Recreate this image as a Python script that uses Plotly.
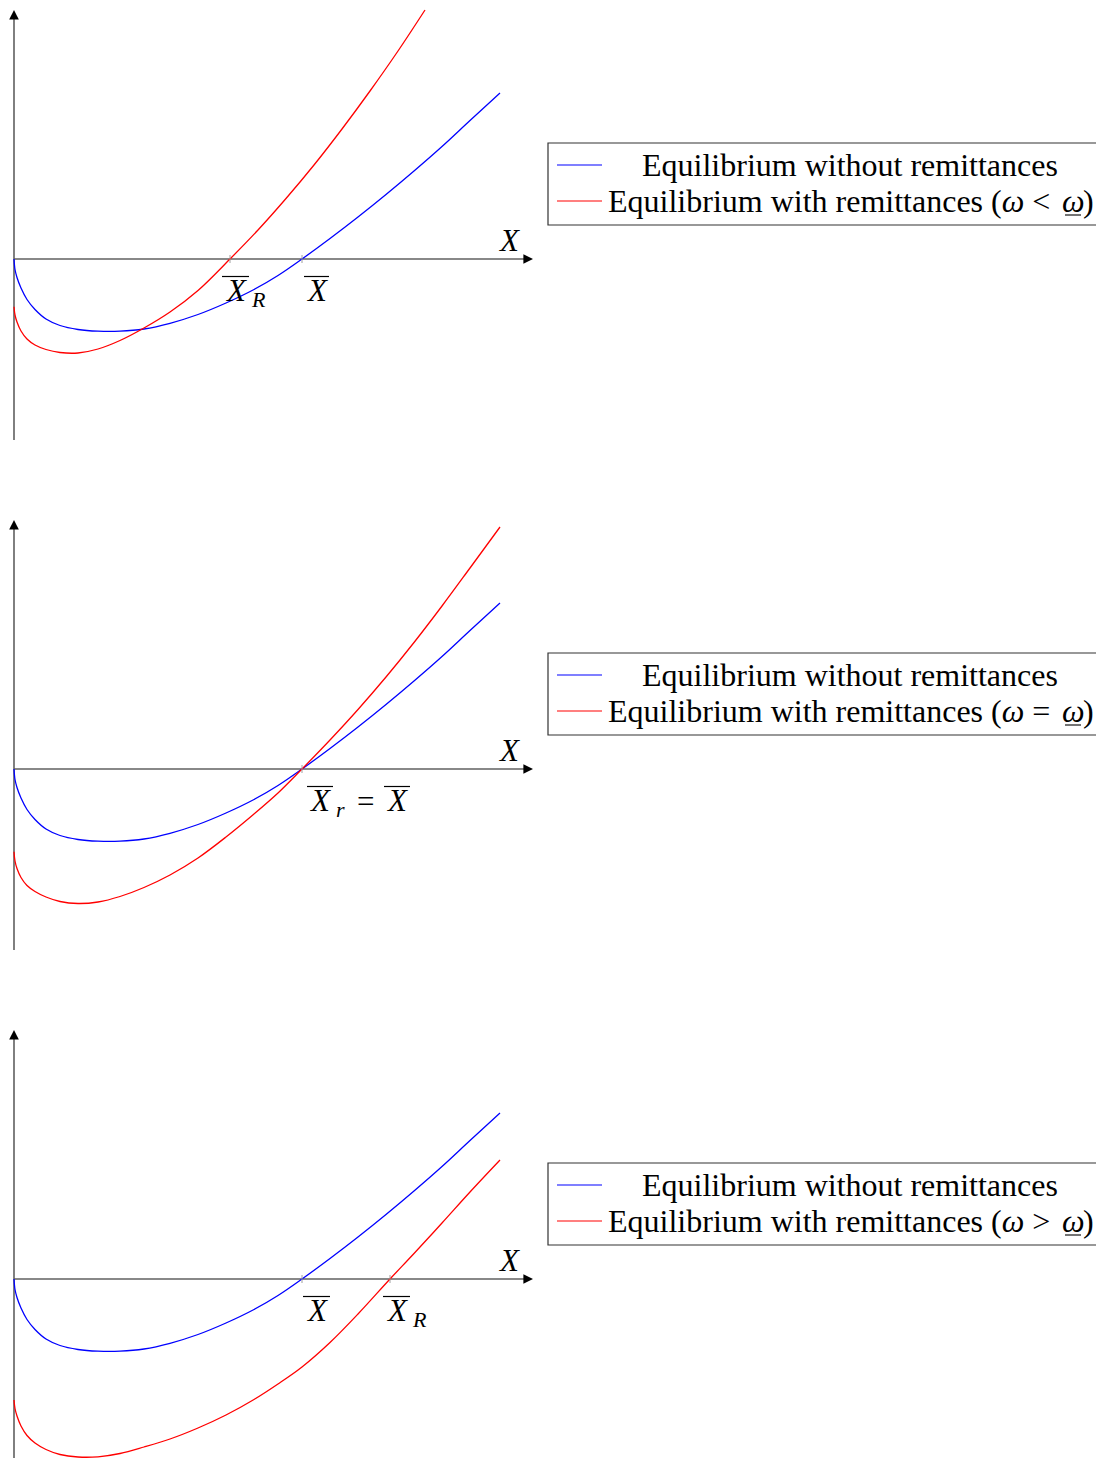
import plotly.graph_objects as go

# ---- data (x = X, y = equilibrium function value) ----
BLUE_X = [0, 1, 3, 7, 13, 21, 32, 46, 64, 84, 106, 130, 156, 184, 212, 240, 264, 288, 316, 344, 372, 400, 428, 456, 486]
BLUE_Y = [0, -10.5, -18.5, -29, -40.5, -50.5, -60, -66.5, -70.5, -72.2, -72.2, -70, -64.3, -55.5, -44, -30.5, -16.5, 0, 20.5, 42, 64.5, 88, 112.5, 138.5, 166]

RED1_X = [0, 1, 3, 7, 13, 21, 32, 46, 64, 84, 106, 130, 156, 184, 216, 244, 272, 300, 328, 356, 384, 411]
RED1_Y = [-47.7, -56, -63, -72, -80, -86, -90.5, -93.5, -94, -90, -81.5, -69, -53, -31.5, 0, 29, 60.5, 94, 130, 168, 208, 249]

RED2_X = [0, 1, 3, 7, 13, 21, 32, 46, 64, 84, 106, 130, 156, 184, 212, 240, 264, 288, 316, 344, 372, 400, 428, 456, 486]
RED2_Y = [-82.7, -92, -99.5, -108.5, -116.5, -122.5, -128, -132.5, -134.5, -133, -127.5, -118.5, -106, -89, -68, -45, -24, 0, 29, 59.5, 92, 126.5, 163, 201, 242]

RED3_X = [0, 1, 3, 7, 13, 21, 32, 46, 64, 84, 106, 130, 156, 184, 212, 240, 264, 288, 316, 344, 376, 400, 428, 456, 486]
RED3_Y = [-121, -129.5, -137, -147, -156.5, -164, -170.5, -175.5, -178, -177.8, -174.5, -168, -160, -149, -136, -120.5, -105, -88, -63.5, -35, 0, 25.5, 56, 87, 119]

RED_X = [RED1_X, RED2_X, RED3_X]
RED_Y = [RED1_Y, RED2_Y, RED3_Y]

XBAR = 288
XBAR_R = [216, 288, 376]

LEG_BLUE = "Equilibrium without remittances"
LEG_RED_HEAD = "Equilibrium with remittances ("
LEG_RED_REL = ["&lt;", "=", "&gt;"]

# ---- layout geometry (page pixels; the page body adds an 8px margin) ----
FONT = "Liberation Serif"
OFF = 8
W, H = 1104 - OFF, 1458 - OFF
PANEL_TOP = [0, 510, 1020]
PANEL_AXIS = [259, 769, 1279]
PANEL_BOT = [450, 960, 1458]
ORIGIN_X = 14
AXIS_X_END = 519
AXIS_Y_TOP = 249
AXIS_Y_BOT = [-181, -181, -179]


def pxx(x):
    return (x - OFF) / W


def pxy(y):
    return 1 - (y - OFF) / H


fig = go.Figure()
layout = dict(
    width=W, height=H, autosize=False,
    margin=dict(l=0, r=0, t=0, b=0),
    paper_bgcolor="white", plot_bgcolor="rgba(0,0,0,0)",
    showlegend=False,
    font=dict(family=FONT, color="black"),
)
shapes = []
annotations = []

# label pieces: (text, x centre, y centre, size)
label_pieces = [
    [("<i>X</i>", 221.5, -31, 31), ("<i>R</i>", 244, -40, 22), ("<i>X</i>", 302.5, -31, 31)],
    [("<i>X</i>", 306, -31, 31), ("<i>r</i>", 326, -40, 22), ("=", 351, -32, 31), ("<i>X</i>", 383, -31, 31)],
    [("<i>X</i>", 302.5, -31, 31), ("<i>X</i>", 382.5, -31, 31), ("<i>R</i>", 405, -40, 22)],
]
overlines = [[(208, 235), (290, 315)], [(293, 319), (370, 396)], [(289, 316), (369, 396)]]
ticks = [[XBAR_R[0], XBAR], [XBAR], [XBAR, XBAR_R[2]]]

x_range = [-(ORIGIN_X - OFF), 540 - ORIGIN_X]
x_domain = [0, (540 - OFF) / W]

for k in range(3):
    sx = "" if k == 0 else str(k + 1)
    xa, ya = "x" + sx, "y" + sx
    top, ax_y, bot = max(PANEL_TOP[k], OFF), PANEL_AXIS[k], PANEL_BOT[k]
    layout["xaxis" + sx] = dict(range=x_range, domain=x_domain, visible=False, anchor=ya, fixedrange=True)
    layout["yaxis" + sx] = dict(range=[ax_y - bot, ax_y - top], domain=[max(pxy(bot), 0), min(pxy(top), 1)],
                                visible=False, anchor=xa, fixedrange=True)

    fig.add_trace(go.Scatter(x=BLUE_X, y=BLUE_Y, mode="lines", xaxis=xa, yaxis=ya,
                             line=dict(color="#0000ff", width=1.3, shape="spline", smoothing=1.0),
                             name=LEG_BLUE))
    fig.add_trace(go.Scatter(x=RED_X[k], y=RED_Y[k], mode="lines", xaxis=xa, yaxis=ya,
                             line=dict(color="#ff0000", width=1.3, shape="spline", smoothing=1.0),
                             name="Equilibrium with remittances"))

    # axes lines with arrow heads
    shapes.append(dict(type="line", xref=xa, yref=ya, x0=0, x1=AXIS_X_END - 4, y0=0, y1=0,
                       line=dict(color="#606060", width=1.6), layer="below"))
    shapes.append(dict(type="line", xref=xa, yref=ya, x0=0, x1=0, y0=AXIS_Y_BOT[k], y1=AXIS_Y_TOP - 4,
                       line=dict(color="#606060", width=1.6), layer="below"))
    annotations.append(dict(xref=xa, yref=ya, axref=xa, ayref=ya, x=AXIS_X_END, y=0,
                            ax=AXIS_X_END - 9, ay=0, showarrow=True, arrowhead=2, arrowsize=1.6,
                            arrowwidth=1.2, arrowcolor="black", text=""))
    annotations.append(dict(xref=xa, yref=ya, axref=xa, ayref=ya, x=0, y=AXIS_Y_TOP,
                            ax=0, ay=AXIS_Y_TOP - 9, showarrow=True, arrowhead=2, arrowsize=1.6,
                            arrowwidth=1.2, arrowcolor="black", text=""))
    annotations.append(dict(xref=xa, yref=ya, x=495, y=19, text="<i>X</i>", showarrow=False,
                            xanchor="center", yanchor="middle", font=dict(family=FONT, size=31)))

    for t in ticks[k]:
        shapes.append(dict(type="line", xref=xa, yref=ya, x0=t, x1=t, y0=-4, y1=4,
                           line=dict(color="#a0a0a0", width=1)))

    for text, xc, yc, sz in label_pieces[k]:
        annotations.append(dict(xref=xa, yref=ya, x=xc, y=yc, text=text, showarrow=False,
                                xanchor="center", yanchor="middle", font=dict(family=FONT, size=sz)))
    for o0, o1 in overlines[k]:
        shapes.append(dict(type="line", xref=xa, yref=ya, x0=o0, x1=o1, y0=-17.5, y1=-17.5,
                           line=dict(color="black", width=1.2)))

    # legend box (drawn by hand to mimic the boxed, centred legend)
    off = 510 * k
    shapes.append(dict(type="rect", xref="paper", yref="paper", x0=pxx(548), x1=pxx(1115),
                       y0=pxy(225 + off), y1=pxy(143 + off), line=dict(color="#333", width=1.2)))
    y1, y2 = 165 + off, 201 + off
    shapes.append(dict(type="line", xref="paper", yref="paper", x0=pxx(557), x1=pxx(602),
                       y0=pxy(y1), y1=pxy(y1), line=dict(color="#0000ff", width=1.1)))
    shapes.append(dict(type="line", xref="paper", yref="paper", x0=pxx(557), x1=pxx(602),
                       y0=pxy(y2), y1=pxy(y2), line=dict(color="#ff0000", width=1.1)))
    annotations.append(dict(xref="paper", yref="paper", x=pxx(850), y=pxy(y1), text=LEG_BLUE,
                            showarrow=False, xanchor="center", yanchor="middle",
                            font=dict(family=FONT, size=32)))
    annotations.append(dict(xref="paper", yref="paper", x=pxx(1052), y=pxy(y2),
                            text=LEG_RED_HEAD + "<i>ω</i> " + LEG_RED_REL[k],
                            showarrow=False, xanchor="right", yanchor="middle",
                            font=dict(family=FONT, size=32)))
    annotations.append(dict(xref="paper", yref="paper", x=pxx(1073), y=pxy(y2), text="<i>ω</i>",
                            showarrow=False, xanchor="center", yanchor="middle",
                            font=dict(family=FONT, size=32)))
    annotations.append(dict(xref="paper", yref="paper", x=pxx(1081), y=pxy(y2), text=")",
                            showarrow=False, xanchor="left", yanchor="middle",
                            font=dict(family=FONT, size=32)))
    shapes.append(dict(type="line", xref="paper", yref="paper", x0=pxx(1065), x1=pxx(1081),
                       y0=pxy(y2 + 14), y1=pxy(y2 + 14), line=dict(color="black", width=1.1)))

layout["shapes"] = shapes
layout["annotations"] = annotations
fig.update_layout(**layout)
fig.write_html("out.html")
